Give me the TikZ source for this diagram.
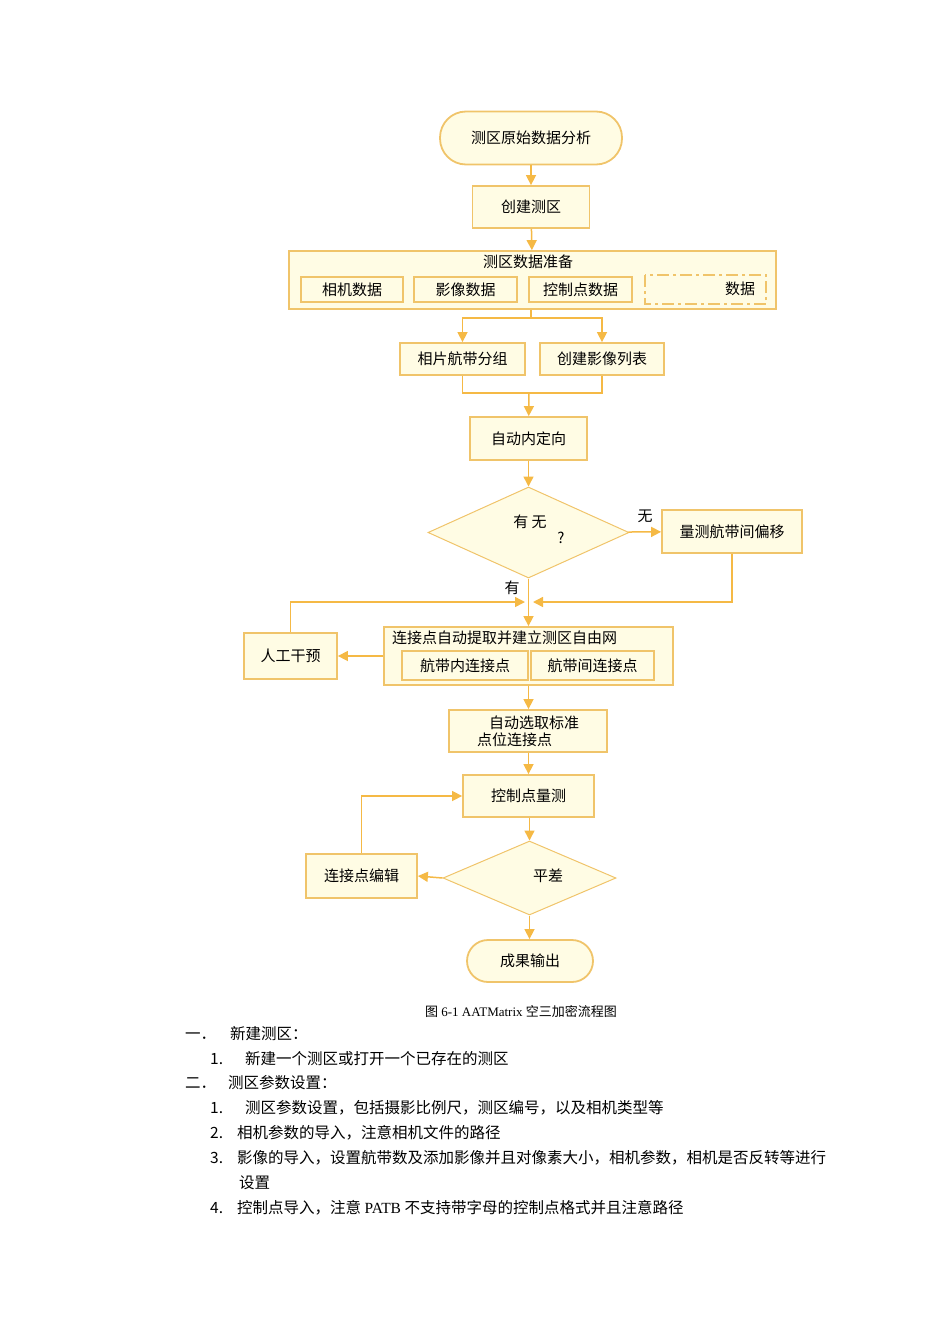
\documentclass[tikz,border=0pt]{standalone}
\usepackage{fontspec}
\setmainfont{Liberation Serif}
\newfontfamily\cjk{Noto Sans CJK SC}
\usetikzlibrary{shapes.geometric,arrows.meta}
\definecolor{bd}{HTML}{F0C46A}
\definecolor{fl}{HTML}{FFFCE4}
\definecolor{ar}{HTML}{F5B945}
\tikzset{
 bx/.style={draw=bd,fill=fl,line width=1.8pt,inner sep=0pt,font=\cjk\fontsize{15}{17}\selectfont},
 sub/.style={draw=bd,fill=fl,line width=1.5pt,inner sep=0pt,font=\cjk\fontsize{15}{17}\selectfont},
 capsule/.style={bx,rounded corners=26pt},
 dia/.style={draw=bd,fill=fl,line width=1pt,diamond,inner sep=0pt,aspect=2.2},
 ln/.style={draw=ar,line width=1.5pt},
 arw/.style={ln,-{Triangle[width=10pt,length=10pt]}},
 lb/.style={font=\cjk\fontsize{15}{17}\selectfont,inner sep=0pt},
 bt/.style={font=\cjk\fontsize{15.5}{18}\selectfont,inner sep=0pt,anchor=west}
}
\begin{document}
\begin{tikzpicture}[x=1pt,y=-1pt]
\useasboundingbox (0,0) rectangle (950,1344);
% nodes
\node[capsule,minimum width=182pt,minimum height=53pt] (s) at (531,138) {测区原始数据分析};
\node[bx,minimum width=117pt,minimum height=42pt] (c) at (531,207) {创建测区};
\node[bx,minimum width=487pt,minimum height=58pt] (p) at (532.5,280) {};
\node[lb] (pt) at (528,262) {测区数据准备};
\node[sub,minimum width=102pt,minimum height=25pt] (p1) at (352,289.5) {相机数据};
\node[sub,minimum width=103pt,minimum height=25pt] (p2) at (465.5,289.5) {影像数据};
\node[sub,minimum width=103pt,minimum height=25pt] (p3) at (580.5,289.5) {控制点数据};
\draw[bd,line width=1.5pt,dash pattern=on 12pt off 4pt on 3pt off 4pt] (645,275) rectangle (766,304);
\node[lb] (p4) at (740,289) {数据};
\node[bx,minimum width=125pt,minimum height=32pt] (g) at (462.5,359) {相片航带分组};
\node[bx,minimum width=124pt,minimum height=32pt] (l) at (602,359) {创建影像列表};
\node[bx,minimum width=117pt,minimum height=43pt] (io) at (528.5,438.5) {自动内定向};
\node[dia,minimum width=201pt,minimum height=91pt] (d1) at (528.5,532.5) {};
\node[lb] (d1t) at (530,522) {有\ 无};
\node[lb] (d1q) at (561,538) {?};
\node[bx,minimum width=140pt,minimum height=43pt] (m) at (732,531.5) {量测航带间偏移};
\node[lb] (wu) at (645,516) {无};
\node[lb] (you) at (512,588) {有};
\node[bx,minimum width=93pt,minimum height=46pt] (h) at (290.5,656) {人工干预};
\node[bx,minimum width=289pt,minimum height=58pt] (t) at (528.5,656) {};
\node[lb,anchor=west] (tt) at (392,638) {连接点自动提取并建立测区自由网};
\node[sub,minimum width=126pt,minimum height=29pt] (t1) at (465,665.5) {航带内连接点};
\node[sub,minimum width=123pt,minimum height=29pt] (t2) at (592.5,665.5) {航带间连接点};
\node[bx,minimum width=158pt,minimum height=42pt,align=left] (a) at (528,731) {\hspace*{12pt}自动选取标准\\点位连接点};
\node[bx,minimum width=131pt,minimum height=42pt] (k) at (528.5,796) {控制点量测};
\node[dia,minimum width=173pt,minimum height=74pt] (d2) at (529.5,878) {};
\node[lb] (d2t) at (548,876) {平差};
\node[bx,minimum width=111pt,minimum height=44pt] (e) at (361.5,876) {连接点编辑};
\node[capsule,minimum width=126pt,minimum height=42pt,rounded corners=21pt] (o) at (530,961) {成果输出};
% connectors
\draw[arw] (s) -- (c);
\draw[arw] (c) -- (p);
\coordinate (sp) at (531,318);
\draw[ln] (p.south -| sp) -- (sp);
\draw[arw] (sp) -| (g);
\draw[arw] (sp) -| (l);
\coordinate (mg) at (529,393);
\draw[ln] (g) |- (mg) -| (l);
\draw[arw] (mg) -- (io);
\draw[arw] (io) -- (d1);
\draw[arw] (d1) -- (m);
\coordinate (j) at (529,602);
\draw[arw] (d1.south) -- (t.north -| d1.south);
\draw[arw] (m.south) |- ([xshift=4pt]j);
\draw[arw] (h.north) |- ([xshift=-4pt]j);
\draw[arw] (t.west) -- (h.east);
\draw[arw] (t.south) -- (a.north -| t.south);
\draw[arw] (a.south -| k) -- (k);
\draw[arw] (k.south -| d2) -- (d2);
\draw[arw] (d2.west) -- (e.east);
\draw[arw] (e.north) |- (k.west);
\draw[arw] (d2.south) -- (o.north -| d2.south);
% caption and text
\node[font=\fontsize{13}{15}\selectfont,inner sep=0pt] (cp) at (521,1011) {{\cjk 图} 6-1 AATMatrix {\cjk 空三加密流程图}};
\node[bt] (x1) at (185,1034) {一．\hspace{14pt}新建测区：};
\node[bt] (x2) at (210,1059) {1.\hspace{22pt}新建一个测区或打开一个已存在的测区};
\node[bt] (x3) at (185,1083) {二．\hspace{12pt}测区参数设置：};
\node[bt] (x4) at (210,1108) {1.\hspace{22pt}测区参数设置，包括摄影比例尺，测区编号，以及相机类型等};
\node[bt] (x5) at (210,1133) {2.\hspace{14pt}相机参数的导入，注意相机文件的路径};
\node[bt] (x6) at (210,1158) {3.\hspace{14pt}影像的导入，设置航带数及添加影像并且对像素大小，相机参数，相机是否反转等进行};
\node[bt] (x7) at (239,1183) {设置};
\node[bt] (x8) at (210,1208) {4.\hspace{14pt}控制点导入，注意 {\rmfamily PATB} 不支持带字母的控制点格式并且注意路径};
\end{tikzpicture}
\end{document}
